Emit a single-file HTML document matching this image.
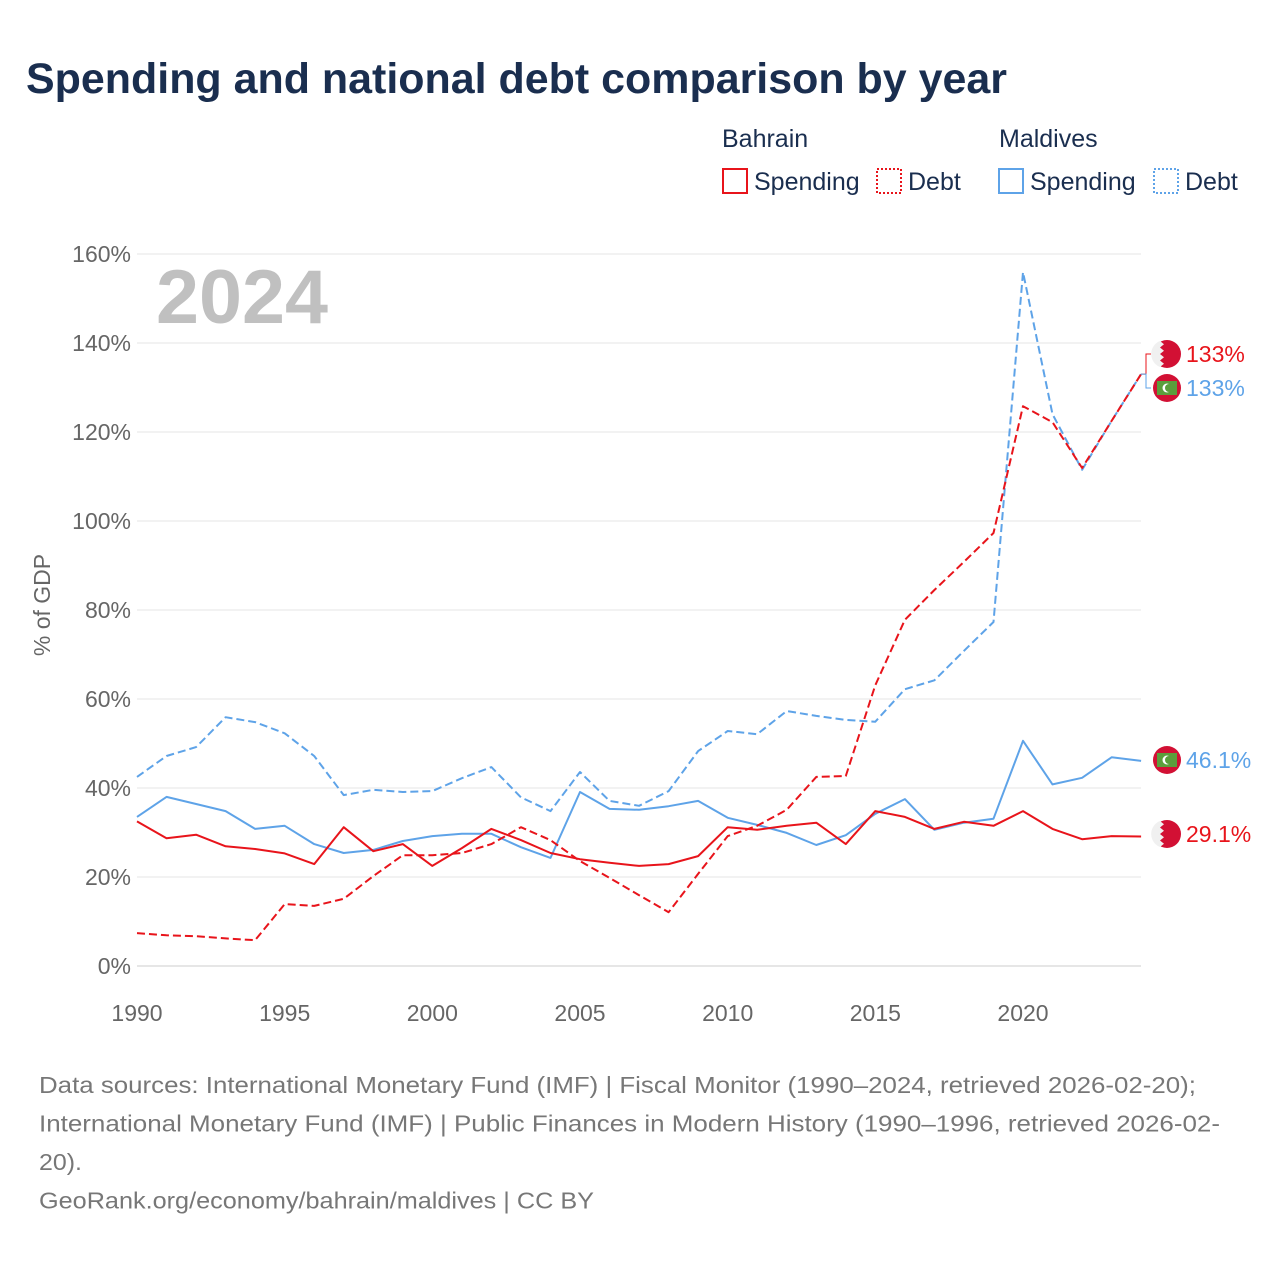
<!DOCTYPE html>
<html><head><meta charset="utf-8"><style>
body{margin:0;background:#fff;font-family:"Liberation Sans",sans-serif;}
#wrap{position:relative;width:1280px;height:1280px;overflow:hidden;}
</style></head><body>
<div id="wrap">
<svg id="chart" width="1280" height="1280"></svg>
</div>
<script>
const years=[];for(let y=1990;y<=2024;y++)years.push(y);
const bahrainSpending=[32.5,28.7,29.5,26.9,26.3,25.3,22.9,31.2,25.8,27.4,22.5,26.5,30.8,28.3,25.4,24.0,23.2,22.5,22.9,24.7,31.2,30.6,31.5,32.2,27.4,34.8,33.5,30.8,32.4,31.5,34.8,30.8,28.5,29.2,29.1];
const bahrainDebt=[7.4,6.9,6.7,6.2,5.8,13.9,13.5,15.1,20.2,24.9,24.9,25.4,27.4,31.2,28.3,23.6,19.8,15.9,12.1,20.7,29.2,31.5,35.1,42.5,42.7,63.1,77.8,84.5,90.8,97.3,125.8,122.2,111.9,122.5,133];
const maldivesSpending=[33.5,38,36.4,34.8,30.8,31.5,27.4,25.4,26.1,28.1,29.2,29.7,29.7,26.7,24.3,39.1,35.3,35.1,35.9,37.1,33.3,31.7,29.9,27.2,29.4,34.2,37.5,30.6,32.2,33.1,50.6,40.8,42.3,46.9,46.1];
const maldivesDebt=[42.5,47.2,49.2,55.9,54.8,52.3,47.2,38.4,39.6,39.1,39.3,42.2,44.7,37.9,34.8,43.6,37.1,36,39.3,48.3,52.8,52.1,57.3,56.2,55.3,54.9,62.2,64.2,70.8,77.3,155.9,124,111.5,122.5,133];
const yTicks=[0,20,40,60,80,100,120,140,160];
const xTicks=[1990,1995,2000,2005,2010,2015,2020];

const svg=document.getElementById('chart');
const NS='http://www.w3.org/2000/svg';
const x=v=>137+(v-1990)*(1023-137)/30;
const y=v=>966-v*(966-254)/160;
function mk(tag,attrs,parent){const e=document.createElementNS(NS,tag);for(const k in attrs)e.setAttribute(k,attrs[k]);(parent||svg).appendChild(e);return e;}
function txt(s,attrs){const t=mk('text',attrs);t.textContent=s;return t;}
const F='"Liberation Sans",sans-serif';

let t=txt('Spending and national debt comparison by year',{x:26,y:93,'font-size':43,'font-weight':'bold',fill:'#1a2e4f','font-family':F,textLength:981,lengthAdjust:'spacingAndGlyphs'});


function legend(x0,label,color,dash,name){
  const r=mk('rect',{x:x0,y:169,width:24,height:24,fill:'none',stroke:color,'stroke-width':2,'stroke-dasharray':dash||''});
  
  const l=txt(label,{x:x0+31,y:190,'font-size':25,fill:'#1a2e4f','font-family':F});
  
}
t=txt('Bahrain',{x:722,y:147,'font-size':25,fill:'#1a2e4f','font-family':F});
t=txt('Maldives',{x:999,y:147,'font-size':25,fill:'#1a2e4f','font-family':F});
legend(723,'Spending','#e8141b','','legend-bahrain-spending');
legend(877,'Debt','#e8141b','2 2','legend-bahrain-debt');
legend(999,'Spending','#5ea3e8','','legend-maldives-spending');
legend(1154,'Debt','#5ea3e8','2 2','legend-maldives-debt');

yTicks.forEach(v=>{
  const g=mk('line',{x1:137,x2:1141,y1:y(v),y2:y(v),stroke:v===0?'#cccccc':'#e6e6e6','stroke-width':1});
  
  const l=txt(v+'%',{x:131,y:y(v)+8,'font-size':23,fill:'#666','text-anchor':'end','font-family':F});
  
});
xTicks.forEach(v=>{
  const l=txt(String(v),{x:x(v),y:1021,'font-size':23,fill:'#666','text-anchor':'middle','font-family':F});
  
});
t=txt('% of GDP',{x:0,y:0,'font-size':23,fill:'#666','text-anchor':'middle','font-family':F,transform:'translate(50,605) rotate(-90)'});

t=txt('2024',{x:156,y:323,'font-size':76,'font-weight':'bold',fill:'#c0c0c0','font-family':F,textLength:172,lengthAdjust:'spacingAndGlyphs'});


function line(data,color,dash,name){
  const d=data.map((v,i)=>(i?'L':'M')+x(years[i]).toFixed(1)+','+y(v).toFixed(1)).join('');
  const p=mk('path',{d:d,fill:'none',stroke:color,'stroke-width':2,'stroke-dasharray':dash||'','stroke-linejoin':'round'});
  
}
line(maldivesDebt,'#5ea3e8','8 4','line-maldives-debt');
line(maldivesSpending,'#5ea3e8','','line-maldives-spending');
line(bahrainDebt,'#e8141b','8 4','line-bahrain-debt');
line(bahrainSpending,'#e8141b','','line-bahrain-spending');

function flag(cy,type,name){
  const g=mk('g',{});
  mk('circle',{cx:1167,cy:cy,r:14,fill:'#d21034'},g);
  if(type==='bh'){
    mk('path',{d:`M1160,${cy-13}l4,3.25l-4,3.25l4,3.25l-4,3.25l4,3.25l-4,3.25l4,3.25l-4,3.25A14,14 0 0 1 1160,${cy-13}z`,fill:'#f0f0f0'},g);
  }else{
    mk('rect',{x:1157,y:cy-7,width:20,height:14,fill:'#5b9e3c'},g);
    mk('circle',{cx:1167,cy:cy,r:4.5,fill:'#fff'},g);
    mk('circle',{cx:1169,cy:cy,r:4,fill:'#5b9e3c'},g);
  }
}
const last=years.length-1;
const lab=[[bahrainDebt[last],354,'bh','#e8141b','133%','bahrain-debt'],[maldivesDebt[last],388,'mv','#5ea3e8','133%','maldives-debt'],[maldivesSpending[last],760,'mv','#5ea3e8',maldivesSpending[last]+'%','maldives-spending'],[bahrainSpending[last],834,'bh','#e8141b',bahrainSpending[last]+'%','bahrain-spending']];
lab.forEach(([v,cy,type,c,s,n])=>{
  if(Math.abs(y(v)-cy)>3){const p=mk('path',{d:`M1141,${y(v)}H1146V${cy}H1151`,fill:'none',stroke:c,'stroke-width':1});}
  flag(cy,type,'flag-'+n);
  const l=txt(s,{x:1186,y:cy+8,'font-size':23,fill:c,'font-family':F});
  
});

const foot=['Data sources: International Monetary Fund (IMF) | Fiscal Monitor (1990–2024, retrieved 2026-02-20);','International Monetary Fund (IMF) | Public Finances in Modern History (1990–1996, retrieved 2026-02-','20).','GeoRank.org/economy/bahrain/maldives | CC BY'];
const footW=[1157,1181,43,555];
foot.forEach((s,i)=>{const l=txt(s,{x:39,y:1093+i*38.5,'font-size':23,fill:'#777','font-family':F,textLength:footW[i],lengthAdjust:'spacingAndGlyphs'});});
</script>
</body></html>
